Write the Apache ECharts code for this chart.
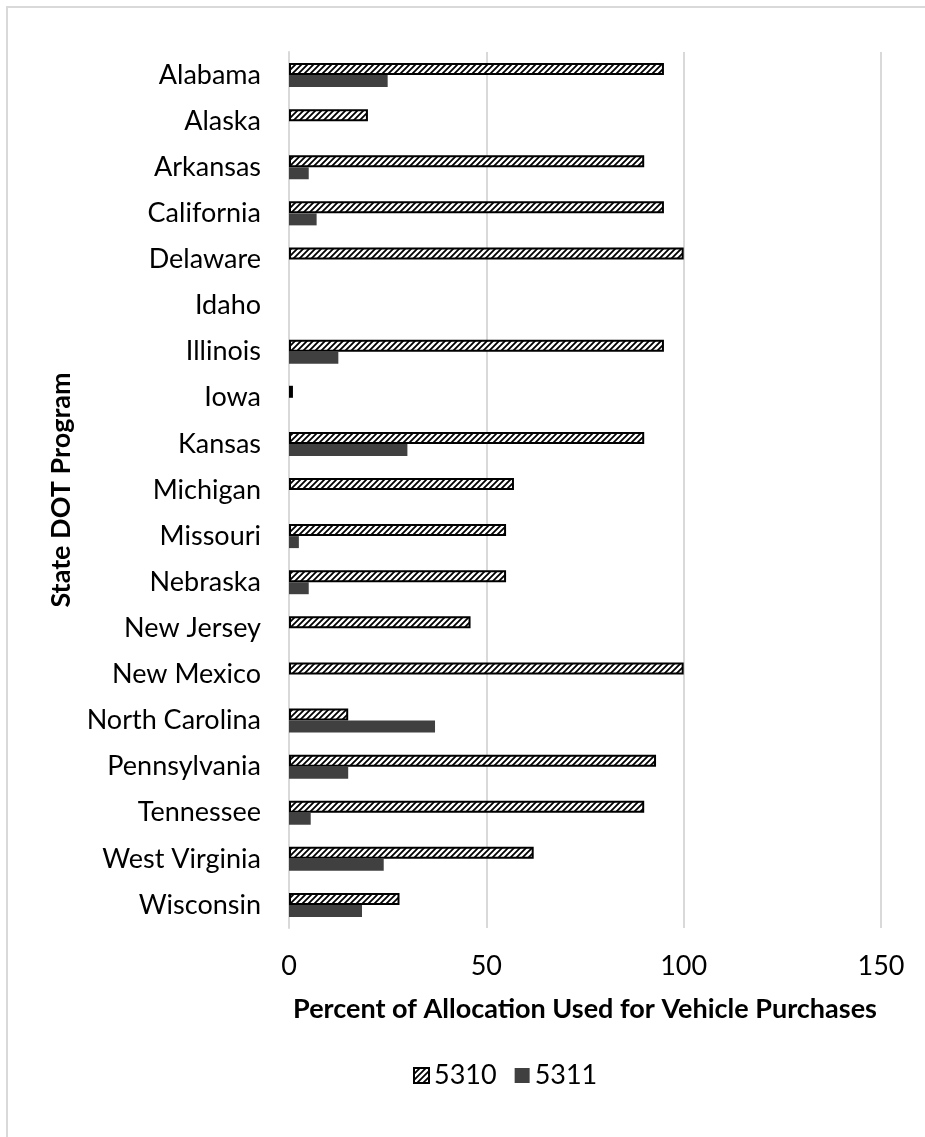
<!DOCTYPE html>
<html>
<head>
<meta charset="utf-8">
<script src="https://cdn.jsdelivr.net/npm/echarts@6/dist/echarts.min.js"></script>
<style>
  html, body { margin: 0; padding: 0; background: #fff; }
  #chart { width: 925px; height: 1137px; }
</style>
</head>
<body>
<div id="chart"></div>
<script>
// data
var states = ['Alabama', 'Alaska', 'Arkansas', 'California', 'Delaware', 'Idaho', 'Illinois', 'Iowa',
  'Kansas', 'Michigan', 'Missouri', 'Nebraska', 'New Jersey', 'New Mexico', 'North Carolina',
  'Pennsylvania', 'Tennessee', 'West Virginia', 'Wisconsin'];
var values5310 = [95, 20, 90, 95, 100, 0, 95, 1, 90, 57, 55, 55, 46, 100, 15, 93, 90, 62, 28];
var values5311 = [25, 0, 5, 7, 0, 0, 12.5, 0, 30, 0, 2.5, 5, 0, 0, 37, 15, 5.5, 24, 18.5];
var xTicks = [0, 50, 100, 150];

// diagonal hatch fill for the 5310 bars
function makeHatch() {
  var c = document.createElement('canvas');
  c.width = 6; c.height = 6;
  var ctx = c.getContext('2d');
  ctx.fillStyle = '#fff';
  ctx.fillRect(0, 0, 6, 6);
  ctx.strokeStyle = '#000';
  ctx.lineWidth = 1.8;
  ctx.beginPath();
  ctx.moveTo(-1, 7); ctx.lineTo(7, -1);
  ctx.moveTo(-4, 4); ctx.lineTo(4, -4);
  ctx.moveTo(2, 10); ctx.lineTo(10, 2);
  ctx.stroke();
  return c;
}

// zero values get no outline, so nothing is drawn for them
function hatchData(arr) {
  return arr.map(function (v) {
    return v === 0 ? { value: 0, itemStyle: { borderWidth: 0 } } : v;
  });
}

var font = 'Lato, "Open Sans", sans-serif';
var myChart = echarts.init(document.getElementById('chart'));

var option = {
  animation: false,
  textStyle: { fontFamily: font },
  graphic: [{
    type: 'rect',
    shape: { x: 7, y: 7, width: 1000, height: 1200 },
    style: { fill: 'none', stroke: '#d9d9d9', lineWidth: 2 }
  }],
  grid: { left: 289, right: 44, top: 52, bottom: 209 },
  legend: {
    left: 408,
    top: 1057,
    icon: 'rect',
    itemWidth: 15,
    itemHeight: 15,
    itemGap: 18,
    textStyle: { fontSize: 27, color: '#000', fontFamily: font },
    data: ['5310', '5311']
  },
  xAxis: {
    type: 'value',
    min: 0,
    max: 150,
    interval: 50,
    name: 'Percent of Allocation Used for Vehicle Purchases',
    nameLocation: 'middle',
    nameGap: 68,
    nameTextStyle: { fontSize: 27, fontWeight: 'bold', color: '#000', fontFamily: font },
    axisLine: { show: false },
    axisTick: { show: false },
    axisLabel: {
      fontSize: 27, color: '#000', margin: 25,
      formatter: function (v) { return xTicks.indexOf(v) >= 0 ? String(v) : ''; }
    },
    splitLine: { lineStyle: { color: '#d9d9d9', width: 2 } }
  },
  yAxis: {
    type: 'category',
    inverse: true,
    data: states,
    name: 'State DOT Program',
    nameLocation: 'middle',
    nameGap: 214,
    nameTextStyle: { fontSize: 27, fontWeight: 'bold', color: '#000', fontFamily: font },
    axisLine: { lineStyle: { color: '#d9d9d9', width: 2 } },
    axisTick: { show: false },
    axisLabel: { fontSize: 27, color: '#000', margin: 28 }
  },
  series: [
    {
      name: '5310',
      type: 'bar',
      data: hatchData(values5310),
      barWidth: 12,
      barGap: '0%',
      itemStyle: {
        color: { image: makeHatch(), repeat: 'repeat' },
        borderColor: '#000',
        borderWidth: 2
      }
    },
    {
      name: '5311',
      type: 'bar',
      data: values5311,
      barWidth: 12,
      itemStyle: { color: '#404040' }
    }
  ]
};

myChart.setOption(option);
</script>
</body>
</html>
